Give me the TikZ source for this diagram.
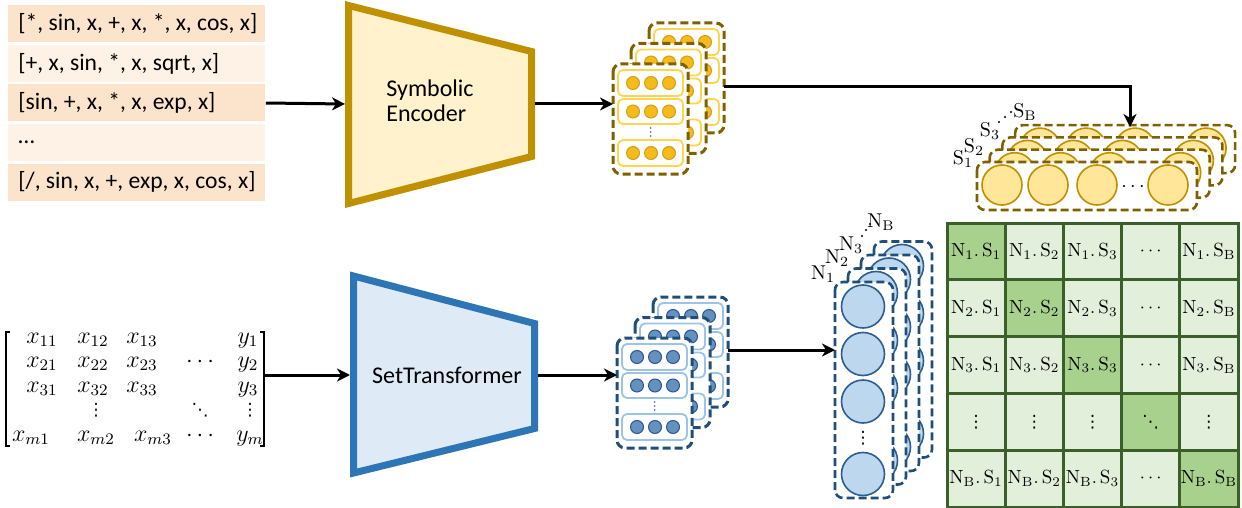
\documentclass[tikz,border=0pt]{standalone}
\usepackage{fontspec}
\newfontfamily\sansf{Carlito}
\newfontfamily\symf{DejaVu Sans}
\usetikzlibrary{arrows.meta}

\definecolor{peachA}{HTML}{FCE4CC}
\definecolor{peachB}{HTML}{FEF2E6}
\definecolor{encline}{HTML}{BF9000}
\definecolor{encfill}{HTML}{FFF2CC}
\definecolor{golddash}{HTML}{7F6000}
\definecolor{goldrow}{HTML}{FFD54F}
\definecolor{golddot}{HTML}{F4BB1A}
\definecolor{golddotline}{HTML}{D4A017}
\definecolor{sfill}{HTML}{FFE699}
\definecolor{stline}{HTML}{2E75B6}
\definecolor{stfill}{HTML}{DEEBF7}
\definecolor{bluedash}{HTML}{1F4E79}
\definecolor{bluerow}{HTML}{9DC3E6}
\definecolor{bluedot}{HTML}{6491BE}
\definecolor{bluedotline}{HTML}{2F5597}
\definecolor{nfill}{HTML}{BDD7EE}
\definecolor{nline}{HTML}{2E5E8E}
\definecolor{vdotc}{HTML}{6F6FBF}
\definecolor{gridgreen}{HTML}{3A5F28}
\definecolor{celllight}{HTML}{E2EFDA}
\definecolor{celldiag}{HTML}{A9D18E}

% compact vertical and diagonal ellipses
\newcommand\vdt{{\symf\fontsize{8.5}{9}\selectfont ⋮}}
\newcommand\ddt{{\symf\fontsize{8.5}{9}\selectfont ⋱}}

\tikzset{
  arr/.style={line width=1.5pt, -{Stealth[length=6.5pt,width=6.5pt,inset=2pt]}},
  listrow/.style={rectangle, anchor=west, minimum width=128.5pt, minimum height=18.5pt,
    inner xsep=5pt, inner ysep=0pt, font=\sansf\fontsize{11.8}{13}\selectfont},
  blocktext/.style={inner sep=0pt, font=\sansf\fontsize{12}{12.5}\selectfont},
  mat/.style={inner sep=0pt, anchor=base, font=\fontsize{11.5}{14}\selectfont},
  lbl/.style={inner sep=0pt, font=\fontsize{10}{12}\selectfont},
  cell/.style={rectangle, draw=gridgreen, line width=1.5pt, inner sep=0pt,
    minimum width=29.1pt, minimum height=28.4pt, font=\fontsize{9.5}{11}\selectfont},
  carddash/.style={fill=white, dash pattern=on 4pt off 2pt, rounded corners=4pt},
}
\newcommand\rowtext[1]{\makebox[118.5pt][l]{#1}}

% small feature card: three rows of three dots with a vertical ellipsis
\newcommand\featcard[6]{%
  \begin{scope}[shift={(#1,#2)}]
    \draw[#3, carddash, line width=1.5pt] (0,0) rectangle (75,110);
    \foreach \ya/\yb in {6/32,35/60,76/102}{
      \draw[#4, line width=0.9pt, rounded corners=2.5pt, fill=white] (5,\ya) rectangle (70,\yb);
      \foreach \cx in {20,38,56}
        \draw[fill=#5, draw=#6, line width=0.5pt] (\cx,{(\ya+\yb)/2}) circle[radius=6.5];
    }
    \foreach \dy in {-4,0,4} \fill[vdotc] (37.5,68+\dy) circle[radius=1];
  \end{scope}}

% wide symbolic embedding card (#3: ellipsis text, empty for hidden cards)
\newcommand\scard[3]{%
  \begin{scope}[shift={(#1,#2)}]
    \draw[golddash, carddash, line width=1.3pt] (0,0) rectangle (220,48);
    \foreach \cx in {25,71,120,191}
      \draw[fill=sfill, draw=encline, line width=0.8pt] (\cx,23) circle[radius=20];
    #3
  \end{scope}}

% tall numeric embedding card (#3: ellipsis text, empty for hidden cards)
\newcommand\ncard[3]{%
  \begin{scope}[shift={(#1,#2)}]
    \draw[bluedash, carddash, line width=1.3pt] (0,0) rectangle (58,216);
    \foreach \cy in {24.5,72,119.5,192}
      \draw[fill=nfill, draw=nline, line width=0.8pt] (28,\cy) circle[radius=21.5];
    #3
  \end{scope}}

\begin{document}
\begin{tikzpicture}[x=0.5pt,y=-0.5pt]
\useasboundingbox (0,0) rectangle (1242,508);

% ---- symbolic input sequences ----
\node[listrow, fill=peachA] (r1) at (8,24)    {\rowtext{[*, sin, x, +, x, *, x, cos, x]}};
\node[listrow, fill=peachB] (r2) at (8,63.5)  {\rowtext{[+, x, sin, *, x, sqrt, x]}};
\node[listrow, fill=peachA] (r3) at (8,103)   {\rowtext{[sin, +, x, *, x, exp, x]}};
\node[listrow, fill=peachB] (r4) at (8,142.5) {\rowtext{…}};
\node[listrow, fill=peachA] (r5) at (8,182)   {\rowtext{[/, sin, x, +, exp, x, cos, x]}};

% ---- symbolic encoder ----
\draw[encline, fill=encfill, line width=3.5pt, line join=miter]
  (348.5,5.5) -- (531.5,51.5) -- (531.5,156.5) -- (348.5,203.5) -- cycle;
\node[blocktext, anchor=west, align=left] (enc) at (386,101) {Symbolic\\Encoder};
\coordinate (encIn) at (345,104);
\coordinate (encOut) at (535,104);

% ---- symbolic feature stack ----
\featcard{649}{23}{golddash}{goldrow}{golddot}{golddotline}
\featcard{631}{43.5}{golddash}{goldrow}{golddot}{golddotline}
\featcard{613}{64}{golddash}{goldrow}{golddot}{golddotline}
\coordinate (symIn) at (613,104);
\coordinate (symOut) at (724,87);

% ---- numeric input matrix ----
\draw[line width=0.7pt] (10,332) -- (6,332) -- (6,446) -- (10,446);
\draw[line width=0.7pt] (260,332) -- (264,332) -- (264,446) -- (260,446);
\node[mat] (m11) at (42,343) {$x_{11}$};
\node[mat] (m12) at (93,343) {$x_{12}$};
\node[mat] (m13) at (142,343) {$x_{13}$};
\node[mat] (m15) at (248,343) {$y_{1}$};
\node[mat] (m21) at (42,367) {$x_{21}$};
\node[mat] (m22) at (93,367) {$x_{22}$};
\node[mat] (m23) at (142,367) {$x_{23}$};
\node[mat] (m24) at (200,367) {$\cdots$};
\node[mat] (m25) at (248,367) {$y_{2}$};
\node[mat] (m31) at (42,392) {$x_{31}$};
\node[mat] (m32) at (93,392) {$x_{32}$};
\node[mat] (m33) at (142,392) {$x_{33}$};
\node[mat] (m35) at (248,392) {$y_{3}$};
\node[mat] (m42) at (96,415) {\vdt};
\node[mat] (m44) at (200,415) {\ddt};
\node[mat] (m45) at (250,415) {\vdt};
\node[mat] (m51) at (31,441) {$x_{m1}$};
\node[mat] (m52) at (96,441) {$x_{m2}$};
\node[mat] (m53) at (153,441) {$x_{m3}$};
\node[mat] (m54) at (200,441) {$\cdots$};
\node[mat] (m55) at (250,441) {$y_{m}$};
\coordinate (matOut) at (265,375);

% ---- set transformer ----
\draw[stline, fill=stfill, line width=3.5pt, line join=miter]
  (353.5,276) -- (534.5,323.5) -- (534.5,428.5) -- (353.5,473) -- cycle;
\node[blocktext] (st) at (447,375) {SetTransformer};
\coordinate (stIn) at (350,375);
\coordinate (stOut) at (538,375);

% ---- numeric feature stack ----
\featcard{653}{297}{bluedash}{bluerow}{bluedot}{bluedotline}
\featcard{635}{317.5}{bluedash}{bluerow}{bluedot}{bluedotline}
\featcard{617}{338}{bluedash}{bluerow}{bluedot}{bluedotline}
\coordinate (numIn) at (617,375);
\coordinate (numOut) at (728,350);

% ---- symbolic embeddings S ----
\scard{1015.1}{125.1}{}
\scard{1002.4}{137.4}{}
\scard{989.7}{149.7}{}
\scard{977}{162}{\node[lbl] (sdots) at (156,25) {$\cdots$};}
\coordinate (sTop) at (1130,127);
\node[lbl] (s1) at (963,159) {$\mathrm{S_1}$};
\node[lbl] (s2) at (974,147) {$\mathrm{S_2}$};
\node[lbl] (s3) at (990,131) {$\mathrm{S_3}$};
\node[lbl] (sB) at (1025,112) {$\mathrm{S_B}$};
\foreach \p in {(999,122),(1005,117),(1011,112)} \fill \p circle[radius=1.1];

% ---- numeric embeddings N ----
\ncard{874}{241.5}{}
\ncard{861}{255}{}
\ncard{848}{268.5}{}
\ncard{835}{282}{\node[lbl] (ndots) at (28,156) {\vdt};}
\coordinate (nIn) at (835,350);
\node[lbl] (n1) at (823,274) {$\mathrm{N_1}$};
\node[lbl] (n2) at (837,258) {$\mathrm{N_2}$};
\node[lbl] (n3) at (851,245) {$\mathrm{N_3}$};
\node[lbl] (nB) at (881,222) {$\mathrm{N_B}$};
\foreach \p in {(862,236),(866,230),(870,224)} \fill \p circle[radius=1.1];

% ---- similarity matrix ----
\foreach \i/\ri in {1/1,2/2,3/3,4/4,5/B}{
  \foreach \j/\cj in {1/1,2/2,3/3,4/4,5/B}{
    \ifnum\i=\j \def\cellcol{celldiag}\else\def\cellcol{celllight}\fi
    \ifnum\i=4
      \ifnum\j=4 \def\celltxt{\ddt}\else\def\celltxt{\vdt}\fi
    \else
      \ifnum\j=4 \def\celltxt{$\cdots$}\else\def\celltxt{$\mathrm{N_{\ri}.\,S_{\cj}}$}\fi
    \fi
    \node[cell, fill=\cellcol] (c\i\j) at ({947+58.2*(\j-0.5)},{223+56.8*(\i-0.5)}) {\celltxt};
  }
}

% ---- connectors ----
\draw[arr] (r3.east) -- (encIn);
\draw[arr] (encOut) -- (symIn);
\draw[arr] (symOut) -| (sTop);
\draw[arr] (matOut) -- (stIn);
\draw[arr] (stOut) -- (numIn);
\draw[arr] (numOut) -- (nIn);
\end{tikzpicture}
\end{document}
